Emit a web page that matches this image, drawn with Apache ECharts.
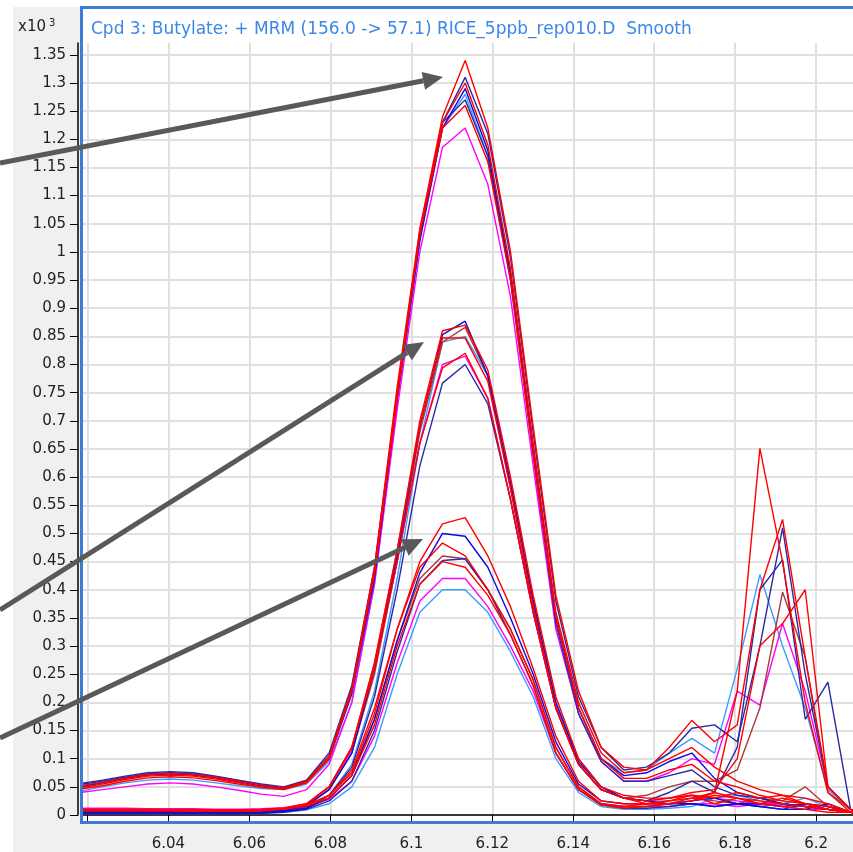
<!DOCTYPE html>
<html>
<head>
<meta charset="utf-8">
<script src="https://cdn.jsdelivr.net/npm/echarts@6/dist/echarts.min.js"></script>
<style>
html, body { margin: 0; padding: 0; background: #fff; }
#chart { width: 853px; height: 852px; }
</style>
</head>
<body>
<div id="chart"></div>
<script>
// 保留时间 (min)
const rt = [6.0181, 6.0237, 6.0293, 6.0349, 6.0405, 6.0461, 6.0517, 6.0573, 6.0629, 6.0685, 6.0741, 6.0797,
            6.0853, 6.0909, 6.0965, 6.1021, 6.1077, 6.1133, 6.1189, 6.1245, 6.1301, 6.1357, 6.1413, 6.1469,
            6.1525, 6.1581, 6.1637, 6.1693, 6.1749, 6.1805, 6.1861, 6.1917, 6.1973, 6.2029, 6.2085, 6.2141];

// 刻度
const xTicks = [6.02, 6.04, 6.06, 6.08, 6.1, 6.12, 6.14, 6.16, 6.18, 6.2];
const xLabels = [6.04, 6.06, 6.08, 6.1, 6.12, 6.14, 6.16, 6.18, 6.2];
const yTicks = [0, 0.05, 0.1, 0.15, 0.2, 0.25, 0.3, 0.35, 0.4, 0.45, 0.5, 0.55, 0.6, 0.65, 0.7,
                0.75, 0.8, 0.85, 0.9, 0.95, 1, 1.05, 1.1, 1.15, 1.2, 1.25, 1.3, 1.35];

// 高浓度组 (x10^3)
const t1 = [0.052, 0.058, 0.066, 0.072, 0.074, 0.072, 0.067, 0.060, 0.053, 0.048, 0.060, 0.105,
            0.225, 0.44, 0.76, 1.04, 1.24, 1.34, 1.22, 1.00, 0.69, 0.39, 0.22, 0.12,
            0.085, 0.08, 0.10, 0.12, 0.085, 0.06, 0.045, 0.035, 0.03, 0.02, 0.005, 0];
const t2 = [0.056, 0.062, 0.069, 0.075, 0.077, 0.075, 0.069, 0.062, 0.055, 0.050, 0.062, 0.11,
            0.23, 0.44, 0.75, 1.03, 1.23, 1.31, 1.21, 0.99, 0.68, 0.38, 0.21, 0.12,
            0.08, 0.085, 0.11, 0.154, 0.16, 0.13, 0.30, 0.51, 0.25, 0.05, 0.01, 0];
const t3 = [0.048, 0.055, 0.063, 0.069, 0.071, 0.069, 0.064, 0.057, 0.050, 0.046, 0.058, 0.10,
            0.22, 0.43, 0.75, 1.04, 1.23, 1.30, 1.19, 0.97, 0.66, 0.36, 0.20, 0.11,
            0.075, 0.08, 0.12, 0.168, 0.13, 0.16, 0.40, 0.525, 0.28, 0.05, 0.01, 0];
const t4 = [0.050, 0.057, 0.065, 0.071, 0.073, 0.071, 0.066, 0.059, 0.052, 0.047, 0.059, 0.10,
            0.215, 0.42, 0.74, 1.02, 1.22, 1.29, 1.18, 0.96, 0.65, 0.35, 0.19, 0.10,
            0.07, 0.075, 0.095, 0.11, 0.065, 0.04, 0.03, 0.02, 0.015, 0.01, 0.005, 0];
const t5 = [0.042, 0.050, 0.057, 0.062, 0.064, 0.062, 0.057, 0.052, 0.047, 0.045, 0.055, 0.095,
            0.20, 0.41, 0.73, 1.02, 1.22, 1.28, 1.17, 0.96, 0.65, 0.35, 0.19, 0.10,
            0.075, 0.08, 0.11, 0.136, 0.11, 0.26, 0.427, 0.30, 0.19, 0.045, 0.01, 0];
const t6 = [0.046, 0.052, 0.060, 0.066, 0.068, 0.066, 0.061, 0.055, 0.049, 0.045, 0.057, 0.10,
            0.22, 0.43, 0.74, 1.03, 1.22, 1.26, 1.16, 0.95, 0.64, 0.35, 0.19, 0.10,
            0.065, 0.065, 0.08, 0.09, 0.06, 0.05, 0.035, 0.025, 0.02, 0.015, 0.005, 0];
const t7 = [0.054, 0.060, 0.067, 0.073, 0.075, 0.073, 0.068, 0.061, 0.054, 0.049, 0.061, 0.105,
            0.225, 0.435, 0.75, 1.03, 1.23, 1.27, 1.17, 0.95, 0.64, 0.34, 0.18, 0.095,
            0.06, 0.06, 0.07, 0.08, 0.05, 0.035, 0.03, 0.02, 0.015, 0.01, 0.005, 0];
const t8 = [0.040, 0.045, 0.050, 0.055, 0.057, 0.055, 0.050, 0.044, 0.037, 0.033, 0.045, 0.09,
            0.20, 0.41, 0.72, 1.00, 1.186, 1.22, 1.12, 0.92, 0.62, 0.33, 0.18, 0.095,
            0.06, 0.06, 0.075, 0.10, 0.09, 0.22, 0.195, 0.34, 0.22, 0.05, 0.01, 0];

// 中浓度组
const m1 = [0.005, 0.005, 0.005, 0.005, 0.005, 0.004, 0.004, 0.004, 0.005, 0.008, 0.016, 0.045,
            0.11, 0.26, 0.46, 0.69, 0.853, 0.877, 0.78, 0.59, 0.38, 0.20, 0.095, 0.05,
            0.03, 0.025, 0.02, 0.02, 0.015, 0.02, 0.015, 0.01, 0.01, 0.02, 0.005, 0];
const m2 = [0.010, 0.010, 0.010, 0.010, 0.009, 0.009, 0.009, 0.009, 0.010, 0.012, 0.020, 0.05,
            0.12, 0.27, 0.47, 0.69, 0.847, 0.847, 0.77, 0.58, 0.37, 0.19, 0.09, 0.045,
            0.03, 0.025, 0.03, 0.035, 0.02, 0.03, 0.02, 0.015, 0.01, 0.005, 0.005, 0];
const m3 = [0.007, 0.007, 0.007, 0.007, 0.007, 0.007, 0.006, 0.006, 0.007, 0.009, 0.017, 0.045,
            0.11, 0.25, 0.45, 0.68, 0.84, 0.866, 0.78, 0.58, 0.37, 0.19, 0.09, 0.045,
            0.03, 0.035, 0.05, 0.06, 0.06, 0.08, 0.19, 0.396, 0.28, 0.04, 0.01, 0];
const m4 = [0.004, 0.004, 0.004, 0.004, 0.004, 0.004, 0.004, 0.004, 0.004, 0.006, 0.012, 0.035,
            0.09, 0.22, 0.42, 0.66, 0.84, 0.85, 0.78, 0.59, 0.38, 0.20, 0.10, 0.05,
            0.03, 0.025, 0.025, 0.03, 0.03, 0.035, 0.025, 0.02, 0.03, 0.015, 0.005, 0];
const m5 = [0.009, 0.009, 0.009, 0.008, 0.008, 0.008, 0.008, 0.008, 0.009, 0.011, 0.019, 0.05,
            0.12, 0.26, 0.45, 0.66, 0.794, 0.82, 0.74, 0.56, 0.36, 0.19, 0.09, 0.045,
            0.03, 0.02, 0.02, 0.025, 0.04, 0.22, 0.651, 0.45, 0.20, 0.04, 0.005, 0];
const m6 = [0.012, 0.012, 0.012, 0.011, 0.011, 0.011, 0.010, 0.010, 0.011, 0.013, 0.020, 0.05,
            0.115, 0.26, 0.45, 0.66, 0.80, 0.815, 0.74, 0.56, 0.36, 0.19, 0.09, 0.045,
            0.03, 0.025, 0.03, 0.035, 0.03, 0.025, 0.02, 0.02, 0.015, 0.01, 0.005, 0];
const m7 = [0.003, 0.003, 0.003, 0.003, 0.003, 0.003, 0.003, 0.003, 0.004, 0.006, 0.012, 0.035,
            0.085, 0.21, 0.40, 0.62, 0.767, 0.80, 0.73, 0.56, 0.36, 0.19, 0.09, 0.045,
            0.03, 0.025, 0.04, 0.06, 0.04, 0.12, 0.40, 0.453, 0.17, 0.236, 0.01, 0];
const m8 = [0.008, 0.008, 0.008, 0.008, 0.008, 0.007, 0.007, 0.007, 0.008, 0.011, 0.019, 0.05,
            0.12, 0.27, 0.47, 0.70, 0.86, 0.87, 0.79, 0.60, 0.39, 0.21, 0.10, 0.05,
            0.035, 0.03, 0.03, 0.04, 0.045, 0.10, 0.30, 0.34, 0.40, 0.05, 0.01, 0];

// 低浓度组
const l1 = [0.010, 0.010, 0.010, 0.010, 0.010, 0.010, 0.009, 0.009, 0.010, 0.012, 0.018, 0.035,
            0.075, 0.18, 0.33, 0.45, 0.517, 0.528, 0.46, 0.37, 0.26, 0.14, 0.06, 0.025,
            0.02, 0.02, 0.025, 0.03, 0.04, 0.03, 0.025, 0.02, 0.015, 0.01, 0.005, 0];
const l2 = [0.004, 0.004, 0.004, 0.004, 0.004, 0.004, 0.004, 0.004, 0.004, 0.006, 0.012, 0.03,
            0.07, 0.17, 0.31, 0.43, 0.50, 0.495, 0.44, 0.35, 0.25, 0.13, 0.055, 0.025,
            0.02, 0.02, 0.02, 0.025, 0.03, 0.02, 0.02, 0.015, 0.02, 0.015, 0.005, 0];
const l3 = [0.009, 0.009, 0.009, 0.009, 0.009, 0.009, 0.008, 0.008, 0.009, 0.011, 0.017, 0.035,
            0.08, 0.19, 0.33, 0.44, 0.483, 0.46, 0.40, 0.33, 0.24, 0.12, 0.05, 0.02,
            0.015, 0.02, 0.025, 0.035, 0.03, 0.04, 0.03, 0.035, 0.02, 0.01, 0.005, 0];
const l4 = [0.006, 0.006, 0.006, 0.006, 0.006, 0.006, 0.006, 0.006, 0.006, 0.008, 0.014, 0.03,
            0.07, 0.17, 0.31, 0.42, 0.46, 0.455, 0.40, 0.33, 0.24, 0.12, 0.05, 0.02,
            0.015, 0.015, 0.02, 0.03, 0.025, 0.02, 0.03, 0.025, 0.05, 0.015, 0.005, 0];
const l5 = [0.002, 0.002, 0.002, 0.002, 0.002, 0.002, 0.002, 0.002, 0.003, 0.005, 0.010, 0.025,
            0.06, 0.15, 0.29, 0.41, 0.452, 0.455, 0.40, 0.32, 0.23, 0.11, 0.045, 0.018,
            0.012, 0.012, 0.015, 0.02, 0.015, 0.02, 0.015, 0.01, 0.02, 0.01, 0.005, 0];
const l6 = [0.008, 0.008, 0.008, 0.008, 0.008, 0.008, 0.008, 0.007, 0.008, 0.010, 0.016, 0.03,
            0.07, 0.16, 0.30, 0.41, 0.45, 0.44, 0.39, 0.32, 0.23, 0.11, 0.045, 0.018,
            0.012, 0.015, 0.02, 0.025, 0.035, 0.03, 0.02, 0.03, 0.02, 0.01, 0.005, 0];
const l7 = [0.010, 0.010, 0.010, 0.010, 0.010, 0.010, 0.010, 0.010, 0.010, 0.012, 0.016, 0.028,
            0.06, 0.14, 0.27, 0.38, 0.42, 0.42, 0.37, 0.30, 0.22, 0.11, 0.045, 0.02,
            0.015, 0.015, 0.015, 0.02, 0.02, 0.015, 0.02, 0.015, 0.01, 0.01, 0.005, 0];
const l8 = [0.003, 0.003, 0.003, 0.003, 0.003, 0.003, 0.003, 0.003, 0.003, 0.005, 0.009, 0.02,
            0.05, 0.12, 0.25, 0.36, 0.40, 0.40, 0.36, 0.29, 0.21, 0.10, 0.04, 0.015,
            0.01, 0.01, 0.012, 0.015, 0.03, 0.02, 0.015, 0.02, 0.015, 0.01, 0.005, 0];

const RED = '#ff0000', BLUE = '#0a0ae0', NAVY = '#2a2aa8', LBLUE = '#3a9cff', MAG = '#ff00ff', BROWN = '#a83a3a';

// 绘制顺序：浅色在下
const traces = [
    [l8, LBLUE], [m4, LBLUE], [t5, LBLUE], [l7, MAG], [m6, MAG], [t8, MAG],
    [l4, BROWN], [m3, BROWN],
    [l5, NAVY], [m7, NAVY], [t7, NAVY], [l2, BLUE], [m1, BLUE], [t4, BLUE], [t2, NAVY],
    [l6, RED], [l3, RED], [l1, RED], [m2, RED], [m5, RED], [m8, RED], [t6, RED], [t3, RED], [t1, RED]
];

const FONT = 'DejaVu Sans';

// 箭头（像素坐标）
function arrow(x0, y0, x1, y1) {
    const a = Math.atan2(y1 - y0, x1 - x0);
    const L = 20, W = 9;
    const bx = x1 - L * Math.cos(a), by = y1 - L * Math.sin(a);
    return [
        { type: 'line', z: 200, shape: { x1: x0, y1: y0, x2: bx, y2: by },
          style: { stroke: '#595959', lineWidth: 5 } },
        { type: 'polygon', z: 200,
          shape: { points: [[x1, y1], [bx + W * Math.sin(a), by - W * Math.cos(a)], [bx - W * Math.sin(a), by + W * Math.cos(a)]] },
          style: { fill: '#595959' } }
    ];
}

const chart = echarts.init(document.getElementById('chart'), null, { renderer: 'canvas' });

chart.setOption({
    animation: false,
    backgroundColor: '#f0f0f0',
    title: {
        text: 'Cpd 3: Butylate: + MRM (156.0 -> 57.1) RICE_5ppb_rep010.D  Smooth',
        left: 86, top: 16,
        textStyle: { color: '#3b87e8', fontSize: 17, fontWeight: 'normal', fontFamily: FONT }
    },
    grid: { left: 83, right: 0, top: 43, bottom: 37, containLabel: false },
    xAxis: {
        type: 'value', min: 6.0189, max: 6.2091, offset: 12,
        axisLine: { show: true, lineStyle: { color: '#000', width: 1.5 } },
        axisTick: { show: true, length: 7, lineStyle: { color: '#000' }, customValues: xTicks },
        axisLabel: { margin: 10, color: '#222', fontSize: 15, fontFamily: FONT, customValues: xLabels },
        splitLine: { show: true, lineStyle: { color: '#e0e0e0', width: 2 } }
    },
    yAxis: {
        type: 'value', min: 0, max: 1.371, offset: 5,
        axisLine: { show: true, lineStyle: { color: '#000', width: 1.5 } },
        axisTick: { show: true, length: 8, lineStyle: { color: '#000' }, customValues: yTicks },
        axisLabel: { margin: 12, color: '#222', fontSize: 15, fontFamily: FONT, customValues: yTicks },
        splitLine: { show: true, lineStyle: { color: '#e0e0e0', width: 2 } }
    },
    graphic: [
        { type: 'rect', z: -1, shape: { x: 0, y: 0, width: 13, height: 852 }, style: { fill: '#fff' } },
        { type: 'rect', z: -1, shape: { x: 0, y: 0, width: 853, height: 7 }, style: { fill: '#fff' } },
        { type: 'rect', z: -1, shape: { x: 81, y: 7, width: 780, height: 816 }, style: { fill: '#fff' } },
        { type: 'rect', z: 100, shape: { x: 81.5, y: 7.5, width: 780, height: 815 },
          style: { fill: null, stroke: '#3d7bd4', lineWidth: 3 } },
        { type: 'text', z: 100, left: 18, top: 18,
          style: { text: '{a|x10}{b|3}', rich: {
              a: { fontSize: 15, fontFamily: FONT, fill: '#222' },
              b: { fontSize: 10, fontFamily: FONT, fill: '#222', verticalAlign: 'top', padding: [0, 0, 8, 3] } } } }
    ].concat(arrow(0, 163, 443, 77), arrow(0, 610, 424, 342), arrow(0, 738, 423, 539)),
    series: traces.map(function (tr, i) {
        return {
            type: 'line',
            name: 'trace' + i,
            showSymbol: false,
            silent: true,
            lineStyle: { color: tr[1], width: 1.4 },
            data: rt.map(function (x, k) { return [x, tr[0][k]]; })
        };
    })
});
</script>
</body>
</html>
